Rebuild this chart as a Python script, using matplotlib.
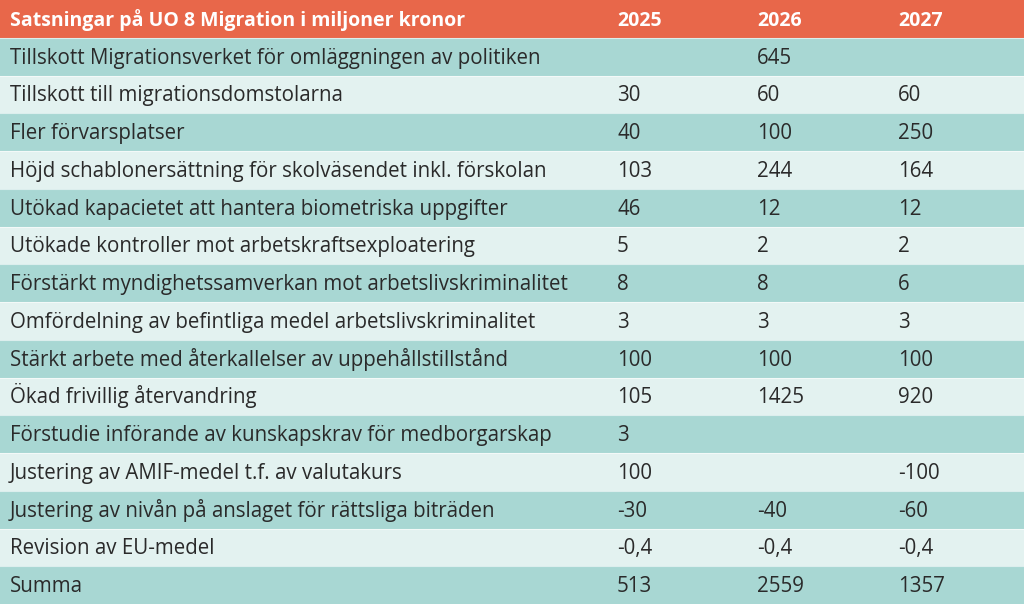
import matplotlib.pyplot as plt
from matplotlib.patches import Rectangle

# table content
header = ["Satsningar på UO 8 Migration i miljoner kronor", "2025", "2026", "2027"]
labels = [
    "Tillskott Migrationsverket för omläggningen av politiken",
    "Tillskott till migrationsdomstolarna",
    "Fler förvarsplatser",
    "Höjd schablonersättning för skolväsendet inkl. förskolan",
    "Utökad kapacietet att hantera biometriska uppgifter",
    "Utökade kontroller mot arbetskraftsexploatering",
    "Förstärkt myndighetssamverkan mot arbetslivskriminalitet",
    "Omfördelning av befintliga medel arbetslivskriminalitet",
    "Stärkt arbete med återkallelser av uppehållstillstånd",
    "Ökad frivillig återvandring",
    "Förstudie införande av kunskapskrav för medborgarskap",
    "Justering av AMIF-medel t.f. av valutakurs",
    "Justering av nivån på anslaget för rättsliga biträden",
    "Revision av EU-medel",
    "Summa",
]
v2025 = ["", "30", "40", "103", "46", "5", "8", "3", "100", "105", "3", "100", "-30", "-0,4", "513"]
v2026 = ["645", "60", "100", "244", "12", "2", "8", "3", "100", "1425", "", "", "-40", "-0,4", "2559"]
v2027 = ["", "60", "250", "164", "12", "2", "6", "3", "100", "920", "", "-100", "-60", "-0,4", "1357"]

HEAD = "#E8674A"
DARK = "#A8D7D3"
LIGHT = "#E3F2F0"
TXT = "#2a2a2a"

plt.rcParams['font.family'] = ['Open Sans', 'DejaVu Sans']

fig = plt.figure(figsize=(10.24, 6.04), dpi=100)
ax = fig.add_axes([0, 0, 1, 1])
ax.set_xlim(0, 1024)
ax.set_ylim(604, 0)
ax.axis('off')

nrows = len(labels) + 1
h = 604 / nrows
col_x = [10, 617, 757, 898]
base_off = 7  # baseline below row centre, px

ax.add_patch(Rectangle((0, 0), 1024, h, color=HEAD, lw=0))
for j, t in enumerate(header):
    ax.text(col_x[j], h / 2 + base_off, t, color="white", fontsize=14, fontweight="bold",
            va="baseline", ha="left")

for i, lab in enumerate(labels):
    y0 = (i + 1) * h
    ax.add_patch(Rectangle((0, y0), 1024, h, color=DARK if i % 2 == 0 else LIGHT, lw=0))
    ax.plot([0, 1024], [y0, y0], color="white", lw=0.8, alpha=0.6)
    yb = y0 + h / 2 + base_off
    for x, t in zip(col_x, [lab, v2025[i], v2026[i], v2027[i]]):
        ax.text(x, yb, t, color=TXT, fontsize=14.8, va="baseline", ha="left")

fig.savefig("out.png", dpi=100)
